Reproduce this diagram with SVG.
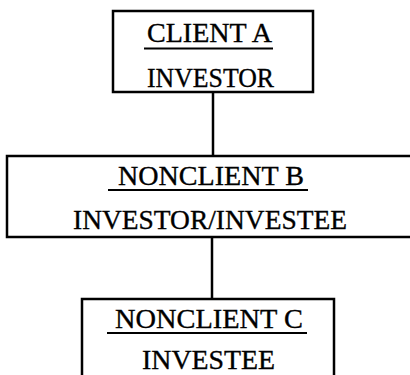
<svg xmlns="http://www.w3.org/2000/svg" width="410" height="375" viewBox="0 0 410 375">
<style>
.box{fill:none;stroke:#000;stroke-width:2.5}
.ul{stroke:#000;stroke-width:2}
.conn{stroke:#000;stroke-width:2.5}
text{font-family:"Liberation Serif","Times New Roman",serif;font-size:27.5px;fill:#000;stroke:#000;stroke-width:0.35}
</style>
<rect width="410" height="375" fill="#fff"/>
<g id="connectors">
<line class="conn" x1="213" y1="92" x2="213" y2="156"/>
<line class="conn" x1="212" y1="237" x2="212" y2="299"/>
</g>
<g id="clientA">
<rect class="box" x="113" y="11" width="200" height="81"/>
<text x="147" y="42" textLength="125" lengthAdjust="spacingAndGlyphs">CLIENT A</text>
<line class="ul" x1="144" y1="48.5" x2="273" y2="48.5"/>
<text x="147" y="87" textLength="127" lengthAdjust="spacingAndGlyphs">INVESTOR</text>
</g>
<g id="nonclientB">
<rect class="box" x="7" y="156" width="410" height="81"/>
<text x="118" y="185" textLength="186" lengthAdjust="spacingAndGlyphs">NONCLIENT B</text>
<line class="ul" x1="108" y1="190" x2="308" y2="190"/>
<text x="73" y="229" textLength="274" lengthAdjust="spacingAndGlyphs">INVESTOR/INVESTEE</text>
</g>
<g id="nonclientC">
<rect class="box" x="82" y="299" width="252" height="100"/>
<text x="115" y="328" textLength="188" lengthAdjust="spacingAndGlyphs">NONCLIENT C</text>
<line class="ul" x1="107" y1="333" x2="307" y2="333"/>
<text x="142" y="369" font-size="27" textLength="133" lengthAdjust="spacingAndGlyphs">INVESTEE</text>
</g>
</svg>
